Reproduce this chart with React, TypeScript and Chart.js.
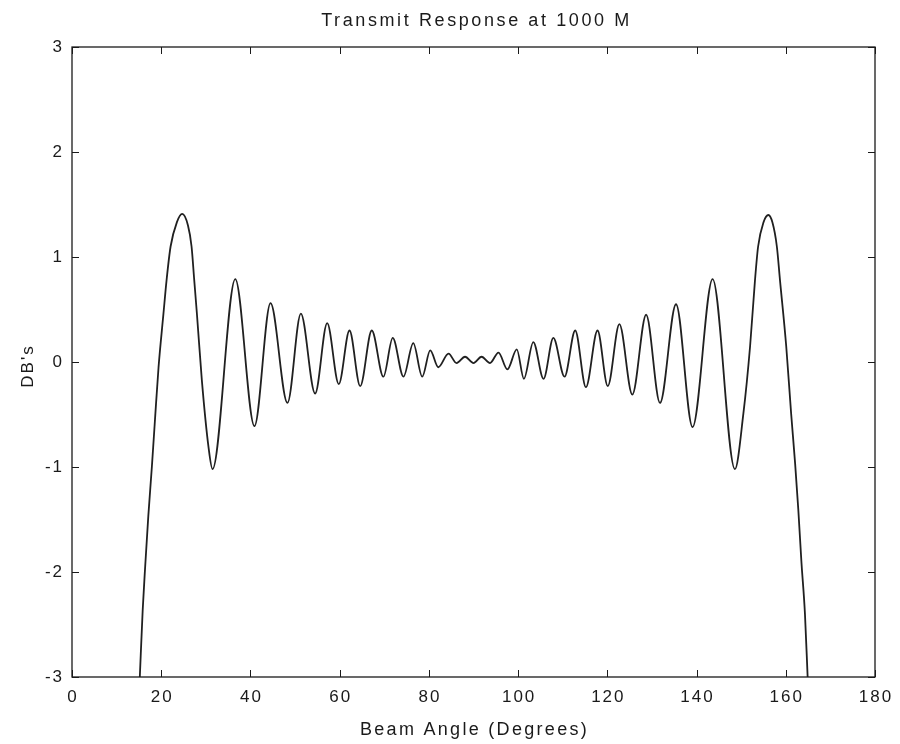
import React, { useEffect, useRef } from "react";
import { Chart, registerables } from "chart.js";

Chart.register(...registerables);

const titleText = "Transmit Response at 1000 M";
const xLabel = "Beam Angle (Degrees)";
const yLabel = "DB's";

const xTicks = [0, 20, 40, 60, 80, 100, 120, 140, 160, 180];
const yTicks = [-3, -2, -1, 0, 1, 2, 3];

const angles = [
  15.2, 15.85, 16.4, 17.1, 17.9, 18.6, 19.4, 20.5, 21.2, 22.1, 23.5, 24.7,
  26.0, 26.8, 27.4, 28.0, 29.1, 30.6, 31.5,
  36.6, 40.9, 44.5, 48.3, 51.3, 54.5, 57.2, 59.8, 62.2, 64.6, 67.2, 69.8,
  71.9, 74.3, 76.5, 78.5, 80.3, 82.1, 84.4, 86.2, 88.1, 90.0, 91.8, 93.7,
  95.6, 97.6, 99.7, 101.3, 103.4, 105.7, 107.9, 110.4, 112.8, 115.2, 117.8,
  120.1, 122.7, 125.6, 128.7, 131.8, 135.4, 139.1, 143.6, 148.6,
  150.5, 152.0, 153.1, 153.8, 155.0, 156.1, 157.0, 158.0, 158.7, 160.1,
  161.2, 162.1, 162.8, 163.5, 164.3, 164.9,
];

const dbValues = [
  -3.0, -2.36, -1.95, -1.47, -1.0, -0.55, -0.05, 0.46, 0.78, 1.1, 1.33, 1.41,
  1.3, 1.1, 0.78, 0.46, -0.17, -0.81, -1.02,
  0.79, -0.61, 0.56, -0.39, 0.46, -0.3, 0.37, -0.21, 0.3, -0.23, 0.3, -0.14,
  0.23, -0.14, 0.18, -0.14, 0.11, -0.05, 0.08, -0.01, 0.05, -0.01, 0.05, -0.01,
  0.09, -0.07, 0.12, -0.16, 0.19, -0.16, 0.23, -0.14, 0.3, -0.24, 0.3,
  -0.23, 0.36, -0.31, 0.45, -0.39, 0.55, -0.62, 0.79, -1.02,
  -0.49, 0.15, 0.78, 1.1, 1.33, 1.4, 1.33, 1.1, 0.78, 0.15,
  -0.49, -0.97, -1.4, -1.9, -2.4, -3.0,
];

const FONT = "'Liberation Sans', Arial, Helvetica, sans-serif";
const INK = "#1a1a1a";

const framePlugin = {
  id: "matlabFrame",
  afterDraw(chart: any) {
    const { ctx, chartArea } = chart;
    const xs = chart.scales.x;
    const ys = chart.scales.y;
    const { left, right, top, bottom } = chartArea;
    ctx.save();
    ctx.strokeStyle = INK;
    ctx.lineWidth = 1.3;
    ctx.strokeRect(left, top, right - left, bottom - top);
    const tl = 7;
    ctx.lineWidth = 1;
    ctx.beginPath();
    xTicks.forEach((v) => {
      const px = Math.round(xs.getPixelForValue(v)) + 0.5;
      ctx.moveTo(px, bottom);
      ctx.lineTo(px, bottom - tl);
      ctx.moveTo(px, top);
      ctx.lineTo(px, top + tl);
    });
    yTicks.forEach((v) => {
      const py = Math.round(ys.getPixelForValue(v)) + 0.5;
      ctx.moveTo(left, py);
      ctx.lineTo(left + tl, py);
      ctx.moveTo(right, py);
      ctx.lineTo(right - tl, py);
    });
    ctx.stroke();

    ctx.fillStyle = INK;
    ctx.font = `17px ${FONT}`;
    (ctx as any).letterSpacing = "2px";
    ctx.textAlign = "center";
    ctx.textBaseline = "middle";
    xTicks.forEach((v) => {
      ctx.fillText(String(v), xs.getPixelForValue(v) + 1, bottom + 20);
    });
    ctx.textAlign = "right";
    yTicks.forEach((v) => {
      ctx.fillText(String(v), left - 8, ys.getPixelForValue(v));
    });

    ctx.font = `18px ${FONT}`;
    (ctx as any).letterSpacing = "2.3px";
    ctx.textAlign = "center";
    ctx.textBaseline = "alphabetic";
    ctx.fillText(xLabel, (left + right) / 2 + 1, 735);

    (ctx as any).letterSpacing = "2.6px";
    ctx.font = `18px ${FONT}`;
    ctx.fillText(titleText, (left + right) / 2 + 3, 26);

    ctx.save();
    ctx.translate(28, (top + bottom) / 2 + 4);
    ctx.rotate(-Math.PI / 2);
    (ctx as any).letterSpacing = "2px";
    ctx.font = `17px ${FONT}`;
    ctx.textAlign = "center";
    ctx.textBaseline = "middle";
    ctx.fillText(yLabel, 0, 0);
    ctx.restore();

    ctx.restore();
  },
};

export default function App() {
  const ref = useRef<HTMLCanvasElement | null>(null);

  useEffect(() => {
    document.body.style.margin = "0";
    const canvas = ref.current;
    if (!canvas) return;
    const points = angles.map((a, i) => ({ x: a, y: dbValues[i] }));
    const chart = new Chart(canvas, {
      type: "line",
      data: {
        datasets: [
          {
            data: points,
            borderColor: "#202020",
            borderWidth: 1.8,
            pointRadius: 0,
            fill: false,
            cubicInterpolationMode: "monotone",
          },
        ],
      },
      options: {
        animation: false,
        responsive: false,
        devicePixelRatio: 1,
        layout: { padding: { left: 0, right: 25, top: 47, bottom: 0 } },
        plugins: {
          legend: { display: false },
          title: { display: false },
          tooltip: { enabled: false },
        },
        scales: {
          x: {
            type: "linear",
            min: 0,
            max: 180,
            grid: { display: false },
            border: { display: false },
            ticks: { display: false },
            afterFit: (s: any) => {
              s.height = 67;
            },
          },
          y: {
            type: "linear",
            min: -3,
            max: 3,
            grid: { display: false },
            border: { display: false },
            ticks: { display: false },
            afterFit: (s: any) => {
              s.width = 72;
            },
          },
        },
      },
      plugins: [framePlugin],
    });
    return () => chart.destroy();
  }, []);

  return (
    <div style={{ position: "absolute", left: 0, top: 0, width: 900, height: 744, background: "#fff" }}>
      <canvas ref={ref} width={900} height={744} style={{ display: "block" }} />
    </div>
  );
}
